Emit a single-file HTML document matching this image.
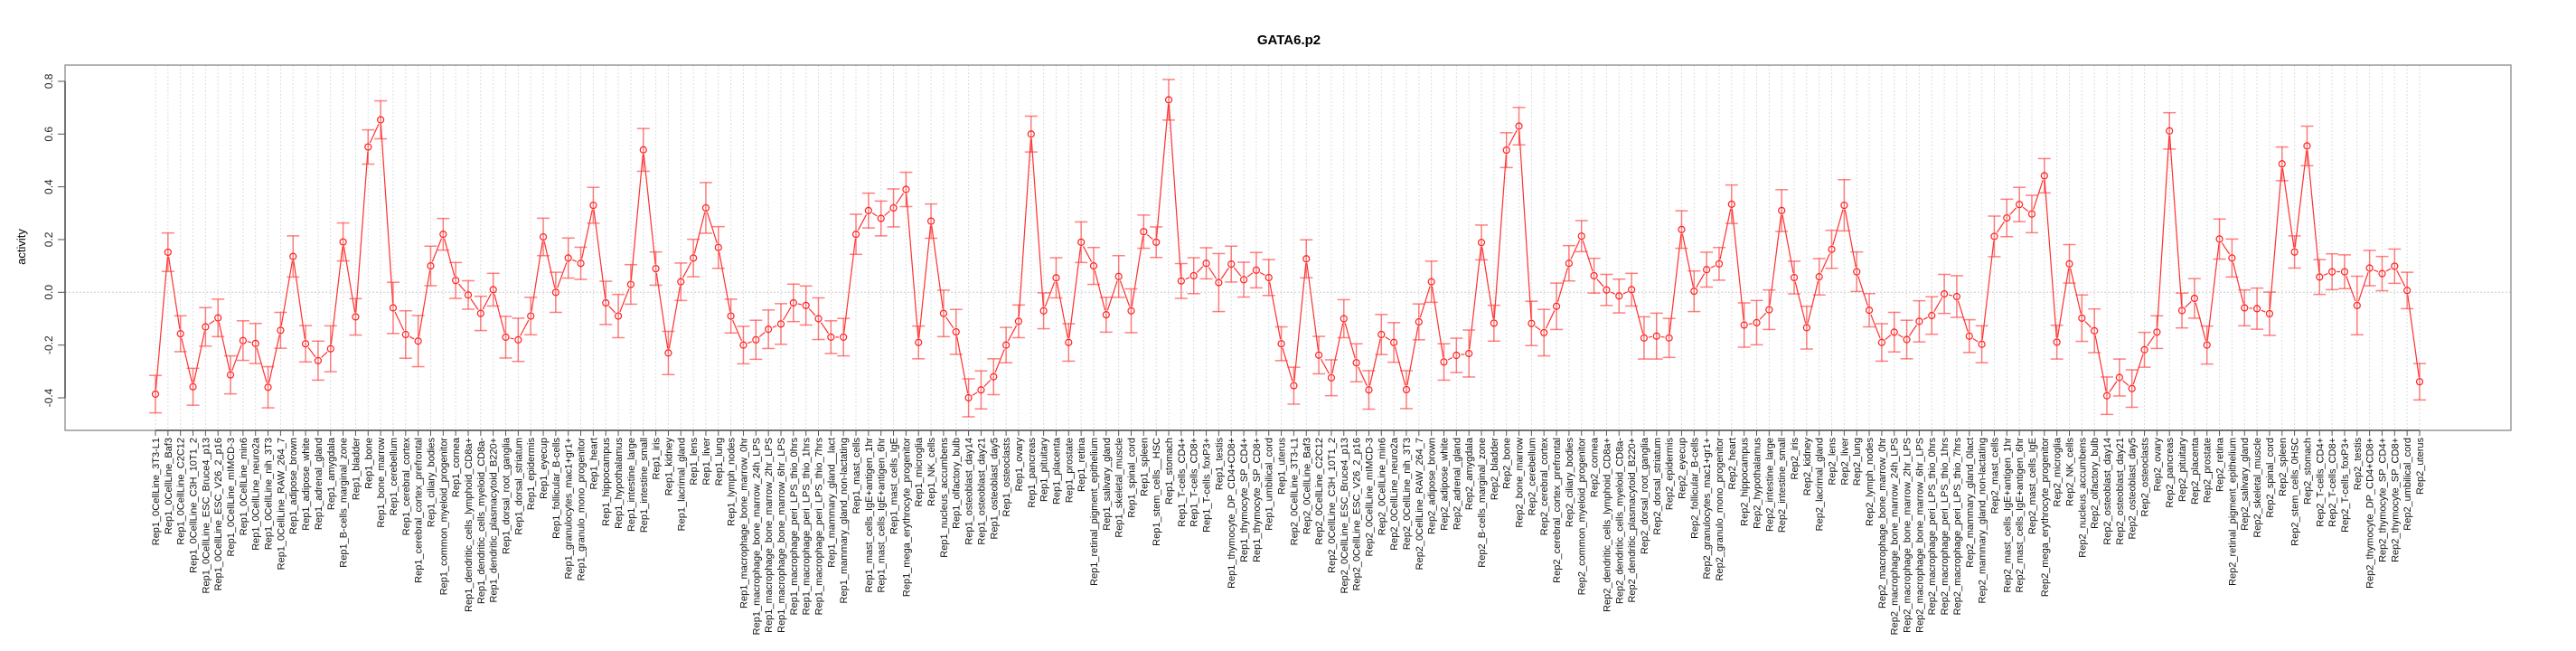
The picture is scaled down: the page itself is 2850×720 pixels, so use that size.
<!DOCTYPE html>
<html><head><meta charset="utf-8"><title>GATA6.p2</title>
<style>html,body{margin:0;padding:0;background:#fff;}svg{display:block;font-family:"Liberation Sans",Arial,sans-serif;}</style>
</head><body>
<svg id="chart" width="2850" height="720" viewBox="0 0 2850 720" xmlns="http://www.w3.org/2000/svg">
<text x="1426" y="49" text-anchor="middle" font-size="15" font-weight="bold">GATA6.p2</text>
<text x="0" y="0" transform="translate(28,273) rotate(-90)" text-anchor="middle" font-size="13">activity</text>
<g id="grid"></g>
<rect x="72" y="72" width="2706" height="404" fill="none" stroke="#999" stroke-width="1.5"/>
<g id="yaxis"></g>
<g id="xaxis"></g>
<g id="series"></g>
</svg>
<script>
const tissues = ["0CellLine_3T3-L1","0CellLine_Baf3","0CellLine_C2C12","0CellLine_C3H_10T1_2","0CellLine_ESC_Bruce4_p13","0CellLine_ESC_V26_2_p16","0CellLine_mIMCD-3","0CellLine_min6","0CellLine_neuro2a","0CellLine_nih_3T3","0CellLine_RAW_264_7","adipose_brown","adipose_white","adrenal_gland","amygdala","B-cells_marginal_zone","bladder","bone","bone_marrow","cerebellum","cerebral_cortex","cerebral_cortex_prefrontal","ciliary_bodies","common_myeloid_progenitor","cornea","dendritic_cells_lymphoid_CD8a+","dendritic_cells_myeloid_CD8a-","dendritic_plasmacytoid_B220+","dorsal_root_ganglia","dorsal_striatum","epidermis","eyecup","follicular_B-cells","granulocytes_mac1+gr1+","granulo_mono_progenitor","heart","hippocampus","hypothalamus","intestine_large","intestine_small","iris","kidney","lacrimal_gland","lens","liver","lung","lymph_nodes","macrophage_bone_marrow_0hr","macrophage_bone_marrow_24h_LPS","macrophage_bone_marrow_2hr_LPS","macrophage_bone_marrow_6hr_LPS","macrophage_peri_LPS_thio_0hrs","macrophage_peri_LPS_thio_1hrs","macrophage_peri_LPS_thio_7hrs","MAMLACT","mammary_gland_non-lactating","mast_cells","mast_cells_IgE+antigen_1hr","mast_cells_IgE+antigen_6hr","mast_cells_IgE","mega_erythrocyte_progenitor","microglia","NK_cells","nucleus_accumbens","olfactory_bulb","osteoblast_day14","osteoblast_day21","osteoblast_day5","osteoclasts","ovary","pancreas","pituitary","placenta","prostate","retina","retinal_pigment_epithelium","salivary_gland","skeletal_muscle","spinal_cord","spleen","STEMHSC","stomach","T-cells_CD4+","T-cells_CD8+","T-cells_foxP3+","testis","thymocyte_DP_CD4+CD8+","thymocyte_SP_CD4+","thymocyte_SP_CD8+","umbilical_cord","uterus"];
const reps = ["Rep1","Rep2"];
const rep1Special = {"MAMLACT":"mammary_gland__lact","STEMHSC":"stem_cells__HSC"};
const rep2Special = {"MAMLACT":"mammary_gland_0lact","STEMHSC":"stem_cells_0HSC"};
const values = [
-0.386,0.152,-0.157,-0.358,-0.131,-0.097,-0.313,-0.183,-0.194,-0.36,-0.144,0.136,-0.195,-0.259,-0.214,0.191,-0.093,0.551,0.654,-0.059,-0.16,-0.185,0.10,
0.22,0.045,-0.01,-0.08,0.01,-0.17,-0.18,-0.09,0.21,0.0,0.13,0.11,0.33,-0.04,-0.09,0.03,0.54,0.09,-0.23,0.04,0.13,0.32,0.17,-0.09,
-0.20,-0.18,-0.14,-0.12,-0.04,-0.05,-0.10,-0.17,-0.17,
0.22,0.31,0.28,0.32,0.39,-0.19,0.27,-0.08,-0.15,-0.40,-0.37,-0.32,-0.20,-0.11,0.60,-0.07,0.055,-0.19,0.19,0.10,-0.085,0.06,-0.07,0.23,0.19,0.73,0.043,0.063,0.11,0.037,0.107,0.048,0.084,0.056,-0.195,
-0.354,0.127,-0.238,-0.324,-0.10,-0.267,-0.37,-0.16,-0.19,-0.369,-0.112,0.04,-0.264,-0.239,-0.232,0.189,-0.117,0.539,0.63,-0.118,-0.153,-0.053,0.11,
0.213,0.063,0.009,-0.014,0.01,-0.173,-0.166,-0.173,0.238,0.004,0.086,0.108,0.334,-0.124,-0.115,-0.066,0.31,0.056,-0.134,0.059,0.163,0.33,0.078,-0.068,
-0.19,-0.151,-0.179,-0.11,-0.088,-0.006,-0.016,-0.166,-0.197,
0.212,0.282,0.333,0.297,0.442,-0.189,0.108,-0.098,-0.146,-0.392,-0.323,-0.365,-0.218,-0.151,0.612,-0.069,-0.023,-0.2,0.202,0.13,-0.059,-0.062,-0.081,0.487,0.153,0.555,0.058,0.078,0.078,-0.05,0.092,0.071,0.099,0.007,-0.339];
const errors = [
0.071,0.073,0.068,0.07,0.073,0.071,0.072,0.075,0.076,0.078,0.068,0.078,0.069,0.074,0.087,0.072,0.069,0.065,0.072,0.097,0.09,0.097,0.075,
0.06,0.068,0.054,0.065,0.062,0.079,0.082,0.071,0.071,0.076,0.076,0.061,0.068,0.082,0.082,0.075,0.081,0.063,0.082,0.071,0.071,0.096,0.079,0.064,
0.071,0.074,0.073,0.077,0.071,0.074,0.079,0.062,0.071,
0.076,0.066,0.066,0.072,0.065,0.062,0.065,0.088,0.085,0.072,0.072,0.068,0.067,0.062,0.068,0.068,0.076,0.071,0.077,0.07,0.066,0.079,0.083,0.063,0.058,0.077,0.066,0.068,0.059,0.11,0.068,0.066,0.067,0.068,0.064,
0.07,0.072,0.071,0.068,0.072,0.072,0.073,0.076,0.075,0.072,0.068,0.078,0.069,0.065,0.089,0.066,0.068,0.066,0.071,0.084,0.088,0.088,0.067,
0.059,0.066,0.059,0.064,0.062,0.08,0.087,0.074,0.071,0.077,0.066,0.062,0.073,0.084,0.084,0.075,0.079,0.062,0.081,0.069,0.072,0.097,0.075,0.063,
0.071,0.075,0.073,0.078,0.071,0.074,0.079,0.062,0.07,
0.077,0.071,0.065,0.071,0.065,0.064,0.073,0.088,0.083,0.071,0.07,0.071,0.066,0.062,0.069,0.066,0.075,0.072,0.076,0.072,0.068,0.078,0.082,0.064,0.061,0.075,0.066,0.068,0.064,0.111,0.067,0.065,0.065,0.069,0.069];
const yTicks = [-0.4,-0.2,0.0,0.2,0.4,0.6,0.8];
const yTickLabels = ["-0.4","-0.2","0.0","0.2","0.4","0.6","0.8"];

const categories = [];
reps.forEach(function(r, ri){
  tissues.forEach(function(t){
    const sp = ri === 0 ? rep1Special : rep2Special;
    categories.push(r + "_" + (sp[t] || t));
  });
});

const NS = "http://www.w3.org/2000/svg";
const X0 = 172, X1 = 2677, PT = 72, PB = 476;
function xPos(i){ return X0 + i * (X1 - X0) / (categories.length - 1); }
function yPos(v){ return 323.3 - v * 291.7; }
function mk(tag, attrs, parent){
  const e = document.createElementNS(NS, tag);
  for (const k in attrs) e.setAttribute(k, attrs[k]);
  parent.appendChild(e);
  return e;
}
const grid = document.getElementById('grid');
const yaxis = document.getElementById('yaxis');
const xaxis = document.getElementById('xaxis');
const series = document.getElementById('series');

const zl = mk('line', {x1:72, x2:2778, y1:yPos(0), y2:yPos(0), stroke:'#ccc', 'stroke-width':1, 'stroke-dasharray':'2,2'}, grid);



const ya = mk('line', {x1:72, x2:72, y1:yPos(yTicks[0]), y2:yPos(yTicks[yTicks.length-1]), stroke:'#555', 'stroke-width':1.5}, yaxis);


yTicks.forEach(function(v, i){
  const y = yPos(v);
  const tk = mk('line', {x1:64, x2:72, y1:y, y2:y, stroke:'#555', 'stroke-width':1}, yaxis);
  
  
  const tl = mk('text', {x:0, y:0, transform:'translate(58,' + y + ') rotate(-90)', 'text-anchor':'middle', 'font-size':12, fill:'#222'}, yaxis);
  
  
  tl.textContent = yTickLabels[i];
});

const xa = mk('line', {x1:xPos(0), x2:xPos(categories.length-1), y1:PB, y2:PB, stroke:'#555', 'stroke-width':1.5}, xaxis);



categories.forEach(function(c, i){
  const x = xPos(i);
  const g = mk('line', {x1:x, x2:x, y1:PT, y2:PB, stroke:'#ddd', 'stroke-width':1, 'stroke-dasharray':'2,2'}, grid);
  
  
  const tk = mk('line', {x1:x, x2:x, y1:PB, y2:PB + 6, stroke:'#555', 'stroke-width':1}, xaxis);
  
  
  const tl = mk('text', {x:0, y:0, transform:'translate(' + (x + 4) + ',484) rotate(-90)', 'text-anchor':'end', 'font-size':11, fill:'#111'}, xaxis);
  
  
  tl.textContent = c;
});

// connecting lines
for (let i = 0; i < values.length - 1; i++) {
  const xa1 = xPos(i), ya1 = yPos(values[i]), xb = xPos(i+1), yb = yPos(values[i+1]);
  const dx = xb - xa1, dy = yb - ya1, L = Math.sqrt(dx*dx + dy*dy);
  const g = 5;
  if (L <= 2*g) continue;
  const ux = dx / L, uy = dy / L;
  const seg = mk('line', {x1:xa1 + ux*g, y1:ya1 + uy*g, x2:xb - ux*g, y2:yb - uy*g, stroke:'#ff3030', 'stroke-width':1.2}, series);
  
  
}
// error bars and points
values.forEach(function(v, i){
  const x = xPos(i), yt = yPos(v + errors[i]), yb = yPos(v - errors[i]);
  const eb = mk('g', {stroke:'rgba(255,60,60,0.65)', 'stroke-width':1.5}, series);
  
  
  mk('line', {x1:x, x2:x, y1:yt, y2:yb}, eb);
  mk('line', {x1:x-7, x2:x+7, y1:yt, y2:yt}, eb);
  mk('line', {x1:x-7, x2:x+7, y1:yb, y2:yb}, eb);
  const pt = mk('circle', {cx:x, cy:yPos(v), r:3.5, fill:'none', stroke:'#ff2020', 'stroke-width':1.2}, series);
  
  
});
</script>
</body></html>
